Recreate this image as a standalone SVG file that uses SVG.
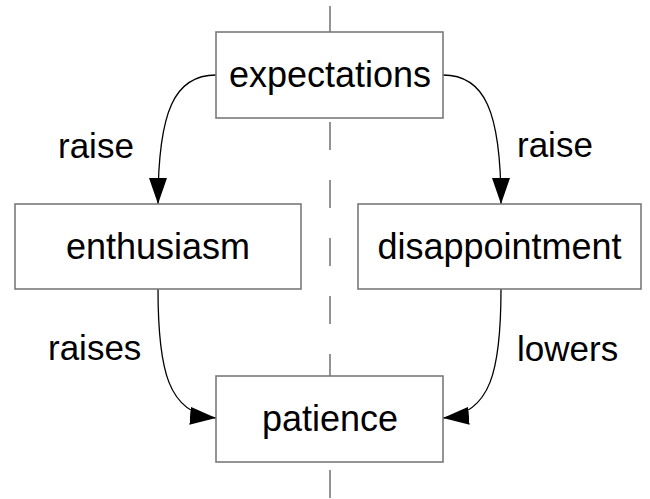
<svg xmlns="http://www.w3.org/2000/svg" width="650" height="499" viewBox="0 0 650 499">
<style>
.box{fill:#fff;stroke:#7a7a7a;stroke-width:1.6}
.t{font-family:"Liberation Sans",Arial,sans-serif;font-size:36px;fill:#000;text-anchor:middle}
.lbl{font-family:"Liberation Sans",Arial,sans-serif;font-size:35px;fill:#000}
.c{fill:none;stroke:#000;stroke-width:1.3;marker-end:url(#ah)}
.axis{stroke:#7a7a7a;stroke-width:1.6;stroke-dasharray:28 30}
</style>
<defs>
<marker id="ah" markerUnits="userSpaceOnUse" markerWidth="27" markerHeight="18" refX="26" refY="9" orient="auto">
<path d="M0,0 L26,9 L0,18 z" fill="#000"/>
</marker>
</defs>
<line class="axis" x1="330" y1="6" x2="330" y2="499"/>
<g id="connectors">
<path class="c" d="M216,75 C175,75 158,110 158,204"/>
<path class="c" d="M443,75 C484,75 501,110 501,204"/>
<path class="c" d="M158,289 C158,370 168,414 216,418"/>
<path class="c" d="M501,289 C501,370 491,414 443,418"/>
</g>
<g id="expectations">
<rect class="box" x="216" y="32" width="227" height="86"/>
<text class="t" x="330" y="87">expectations</text>
</g>
<g id="enthusiasm">
<rect class="box" x="15" y="204" width="286" height="85"/>
<text class="t" x="158" y="259">enthusiasm</text>
</g>
<g id="disappointment">
<rect class="box" x="358" y="204" width="283" height="85"/>
<text class="t" x="499.5" y="259">disappointment</text>
</g>
<g id="patience">
<rect class="box" x="216" y="376" width="227" height="86"/>
<text class="t" x="330" y="431">patience</text>
</g>
<g id="labels">
<text class="lbl" x="58" y="158">raise</text>
<text class="lbl" x="517" y="157">raise</text>
<text class="lbl" x="48" y="360">raises</text>
<text class="lbl" x="517" y="361">lowers</text>
</g>
</svg>
